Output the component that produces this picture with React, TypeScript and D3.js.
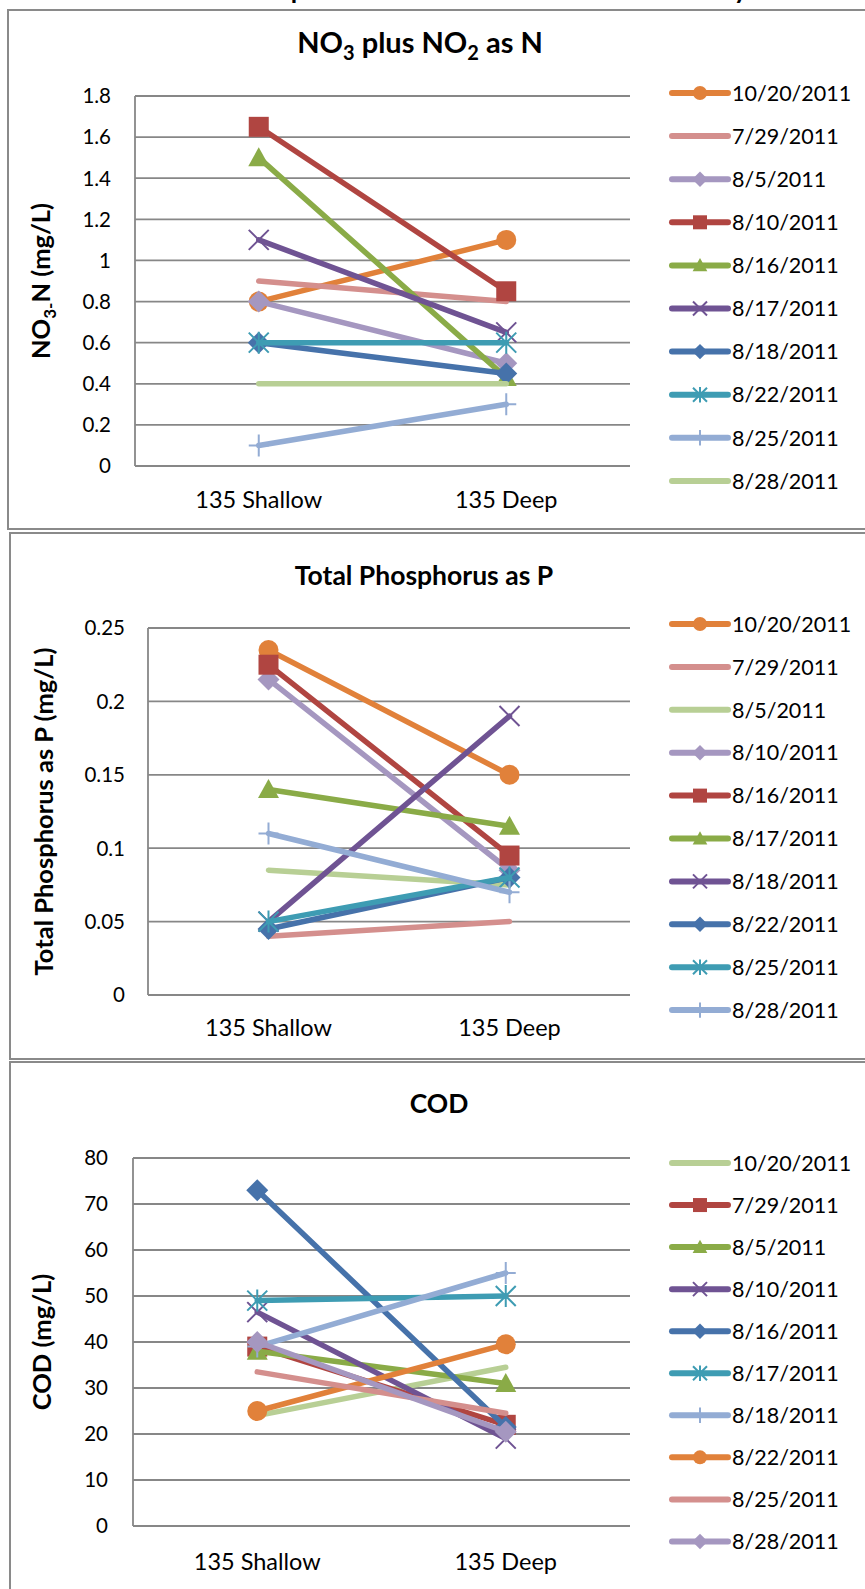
import React from "react";
import * as d3 from "d3";

// ---------- DATA ----------
const categories = ["135 Shallow", "135 Deep"];

const no3Dates = ["10/20/2011", "7/29/2011", "8/5/2011", "8/10/2011", "8/16/2011", "8/17/2011", "8/18/2011", "8/22/2011", "8/25/2011", "8/28/2011"];
const no3Shallow = [0.8, 0.9, 0.8, 1.65, 1.5, 1.1, 0.6, 0.6, 0.1, 0.4];
const no3Deep = [1.1, 0.8, 0.5, 0.85, 0.43, 0.65, 0.45, 0.6, 0.3, 0.4];
const no3Ticks = [0, 0.2, 0.4, 0.6, 0.8, 1, 1.2, 1.4, 1.6, 1.8];

const tpDates = ["10/20/2011", "7/29/2011", "8/5/2011", "8/10/2011", "8/16/2011", "8/17/2011", "8/18/2011", "8/22/2011", "8/25/2011", "8/28/2011"];
const tpShallow = [0.235, 0.04, 0.085, 0.215, 0.225, 0.14, 0.05, 0.045, 0.05, 0.11];
const tpDeep = [0.15, 0.05, 0.075, 0.085, 0.095, 0.115, 0.19, 0.08, 0.08, 0.07];
const tpTicks = [0, 0.05, 0.1, 0.15, 0.2, 0.25];

const codDates = ["10/20/2011", "7/29/2011", "8/5/2011", "8/10/2011", "8/16/2011", "8/17/2011", "8/18/2011", "8/22/2011", "8/25/2011", "8/28/2011"];
const codShallow = [24, 39, 38, 46.5, 73, 49, 39, 25, 33.5, 40];
const codDeep = [34.5, 22, 31, 19, 21.5, 50, 55, 39.5, 24.5, 20.5];
const codTicks = [0, 10, 20, 30, 40, 50, 60, 70, 80];

// ---------- STYLES ----------
const seriesStyles: Record<string, { color: string; marker: string }> = {
  orange: { color: "#E1813A", marker: "circle" },
  pink: { color: "#D48F8D", marker: "none" },
  lilac: { color: "#A597C0", marker: "diamond" },
  red: { color: "#B04541", marker: "square" },
  green: { color: "#8AAB47", marker: "triangle" },
  purple: { color: "#6F5393", marker: "x" },
  blue: { color: "#4672AA", marker: "diamond" },
  teal: { color: "#3E9CB3", marker: "asterisk" },
  lightblue: { color: "#93ACD4", marker: "plus" },
  lightgreen: { color: "#B8CF95", marker: "none" },
};
const no3Styles = ["orange", "pink", "lilac", "red", "green", "purple", "blue", "teal", "lightblue", "lightgreen"];
const tpStyles = ["orange", "pink", "lightgreen", "lilac", "red", "green", "purple", "blue", "teal", "lightblue"];
const codStyles = ["lightgreen", "red", "green", "purple", "blue", "teal", "lightblue", "orange", "pink", "lilac"];

const FONT = "Lato, 'Open Sans', sans-serif";
const GRID = "#878787";

function Marker({ kind, x, y, s, color }: { kind: string; x: number; y: number; s: number; color: string }) {
  const h = s / 2;
  if (kind === "circle") return <circle cx={x} cy={y} r={h} fill={color} />;
  if (kind === "square") return <rect x={x - h} y={y - h} width={s} height={s} fill={color} />;
  if (kind === "triangle")
    return <path d={`M${x},${y - h * 1.05}L${x + h * 1.05},${y + h * 0.85}L${x - h * 1.05},${y + h * 0.85}Z`} fill={color} />;
  if (kind === "diamond")
    return <path d={`M${x},${y - h * 1.1}L${x + h * 1.1},${y}L${x},${y + h * 1.1}L${x - h * 1.1},${y}Z`} fill={color} />;
  if (kind === "x")
    return (
      <path d={`M${x - h},${y - h}L${x + h},${y + h}M${x - h},${y + h}L${x + h},${y - h}`} stroke={color} strokeWidth={2} fill="none" />
    );
  if (kind === "asterisk")
    return (
      <path
        d={`M${x - h},${y - h}L${x + h},${y + h}M${x - h},${y + h}L${x + h},${y - h}M${x},${y - h * 1.1}L${x},${y + h * 1.1}`}
        stroke={color}
        strokeWidth={2}
        fill="none"
      />
    );
  if (kind === "plus")
    return <path d={`M${x - h},${y}L${x + h},${y}M${x},${y - h * 1.1}L${x},${y + h * 1.1}`} stroke={color} strokeWidth={2} fill="none" />;
  return null;
}

type PanelCfg = {
  box: [number, number, number];
  plot: { left: number; right: number; top: number; bottom: number };
  title: React.ReactNode;
  titleSize: number;
  titleX: number;
  titleY: number;
  yTitle: React.ReactNode;
  yTitleX: number;
  tickRight: number;
  catY: number;
  legendY0: number;
  legendStep: number;
  dates: string[];
  shallow: number[];
  deep: number[];
  ticks: number[];
  styles: string[];
};

function Panel({ cfg }: { cfg: PanelCfg }) {
  const { plot } = cfg;
  const x = d3.scaleBand<string>().domain(categories).range([plot.left, plot.right]).padding(0);
  const y = d3
    .scaleLinear()
    .domain([0, cfg.ticks[cfg.ticks.length - 1]])
    .range([plot.bottom, plot.top]);
  const cx = (c: string) => (x(c) as number) + x.bandwidth() / 2;
  const line = d3
    .line<[string, number]>()
    .x((d) => cx(d[0]))
    .y((d) => y(d[1]));
  const fmt = (v: number) => String(+v.toFixed(3));
  const legendX1 = 672;
  const legendX2 = 728;
  return (
    <g>
      <rect x={cfg.box[0]} y={cfg.box[1]} width={900} height={cfg.box[2] - cfg.box[1]} fill="white" stroke="#8a8a8a" strokeWidth={2} />
      <text x={cfg.titleX} y={cfg.titleY} textAnchor="middle" fontFamily={FONT} fontWeight="bold" fontSize={cfg.titleSize} fill="#000">
        {cfg.title}
      </text>
      {cfg.ticks.map((t) => (
        <g key={t}>
          <line x1={plot.left} x2={plot.right} y1={y(t)} y2={y(t)} stroke={GRID} strokeWidth={1.8} />
          <text x={cfg.tickRight} y={y(t)} dy="0.36em" textAnchor="end" fontFamily={FONT} fontSize={20.5} fill="#000">
            {fmt(t)}
          </text>
        </g>
      ))}
      <line x1={plot.left} x2={plot.left} y1={plot.top} y2={plot.bottom} stroke={GRID} strokeWidth={1.8} />
      {categories.map((c) => (
        <text key={c} x={cx(c)} y={cfg.catY} textAnchor="middle" fontFamily={FONT} fontSize={23.5} fill="#000">
          {c}
        </text>
      ))}
      <text
        transform={`translate(${cfg.yTitleX},${(plot.top + plot.bottom) / 2}) rotate(-90)`}
        textAnchor="middle"
        fontFamily={FONT}
        fontWeight="bold"
        fontSize={25.5}
        fill="#000"
      >
        {cfg.yTitle}
      </text>
      {cfg.dates.map((d, i) => {
        const st = seriesStyles[cfg.styles[i]];
        const pts: [string, number][] = [
          [categories[0], cfg.shallow[i]],
          [categories[1], cfg.deep[i]],
        ];
        return (
          <g key={d}>
            <path d={line(pts) as string} stroke={st.color} strokeWidth={5.5} fill="none" strokeLinecap="round" />
            {pts.map((p, j) => (
              <Marker key={j} kind={st.marker} x={cx(p[0])} y={y(p[1])} s={20} color={st.color} />
            ))}
          </g>
        );
      })}
      {cfg.dates.map((d, i) => {
        const st = seriesStyles[cfg.styles[i]];
        const ly = cfg.legendY0 + i * cfg.legendStep;
        return (
          <g key={"lg" + d}>
            <line x1={legendX1} x2={legendX2} y1={ly} y2={ly} stroke={st.color} strokeWidth={6} strokeLinecap="round" />
            <Marker kind={st.marker} x={(legendX1 + legendX2) / 2} y={ly} s={14} color={st.color} />
            <text x={legendX2 + 4} y={ly} dy="0.36em" fontFamily={FONT} fontSize={21.5} fill="#000">
              {d}
            </text>
          </g>
        );
      })}
    </g>
  );
}

const panels: PanelCfg[] = [
  {
    box: [8, 10, 529],
    plot: { left: 135, right: 630, top: 96, bottom: 466 },
    title: (
      <>
        <tspan>NO</tspan>
        <tspan fontSize={20} dy={7}>3</tspan>
        <tspan dy={-7}> plus NO</tspan>
        <tspan fontSize={20} dy={7}>2</tspan>
        <tspan dy={-7}> as N</tspan>
      </>
    ),
    titleSize: 29,
    titleX: 420,
    titleY: 53,
    yTitle: (
      <>
        <tspan>NO</tspan>
        <tspan fontSize={17} dy={6}>3-</tspan>
        <tspan dy={-6}>N (mg/L)</tspan>
      </>
    ),
    yTitleX: 50,
    tickRight: 111,
    catY: 508,
    legendY0: 93,
    legendStep: 43.1,
    dates: no3Dates,
    shallow: no3Shallow,
    deep: no3Deep,
    ticks: no3Ticks,
    styles: no3Styles,
  },
  {
    box: [10, 533, 1059],
    plot: { left: 148, right: 630, top: 628, bottom: 995 },
    title: "Total Phosphorus as P",
    titleSize: 26.5,
    titleX: 424,
    titleY: 585,
    yTitle: "Total Phosphorus as P (mg/L)",
    yTitleX: 53,
    tickRight: 125,
    catY: 1036,
    legendY0: 624,
    legendStep: 42.9,
    dates: tpDates,
    shallow: tpShallow,
    deep: tpDeep,
    ticks: tpTicks,
    styles: tpStyles,
  },
  {
    box: [10, 1062, 1620],
    plot: { left: 133, right: 630, top: 1158, bottom: 1526 },
    title: "COD",
    titleSize: 26.5,
    titleX: 439,
    titleY: 1113,
    yTitle: "COD (mg/L)",
    yTitleX: 51,
    tickRight: 108,
    catY: 1570,
    legendY0: 1163,
    legendStep: 42.05,
    dates: codDates,
    shallow: codShallow,
    deep: codDeep,
    ticks: codTicks,
    styles: codStyles,
  },
];

export default function App() {
  return (
    <>
      <style>{`body{margin:0;}`}</style>
      <svg width={865} height={1589} style={{ display: "block", background: "white" }}>
        <text x={237} y={-1} fontFamily={FONT} fontWeight="bold" fontSize={26} fill="#000">
          Comparison of Nutrient and COD Results by Well Location (mg/L)
        </text>
        {panels.map((p, i) => (
          <Panel key={i} cfg={p} />
        ))}
      </svg>
    </>
  );
}
